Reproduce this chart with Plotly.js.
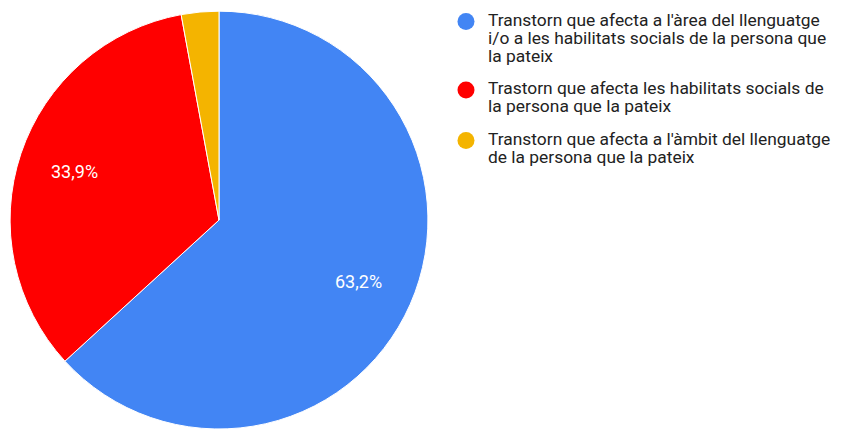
<!DOCTYPE html>
<html>
<head>
<meta charset="utf-8">
<script src="https://cdn.plot.ly/plotly-3.0.1.min.js"></script>
<style>html,body{margin:0;padding:0;background:#fff;}#chart{width:841px;height:429px;}</style>
</head>
<body>
<div id="chart"></div>
<script>
// ---- data ----
const legendLines = [
  ["Transtorn que afecta a l'àrea del llenguatge", "i/o a les habilitats socials de la persona que", "la pateix"],
  ["Trastorn que afecta les habilitats socials de", "la persona que la pateix"],
  ["Transtorn que afecta a l'àmbit del llenguatge", "de la persona que la pateix"]
];
const labels = legendLines.map(l => l.join(' '));
const values = [63.2, 33.9, 2.9];
const colors = ["#4285f4", "#ff0000", "#f4b400"];
const showLabel = [true, true, false];

// ---- layout constants ----
const W = 841, H = 429;
const pieLeft = 10, pieRight = 428, pieTopFrac = 0.974;
const pieCx = (pieLeft + pieRight) / 2;
const pieR = (pieRight - pieLeft) / 2;
const pieCy = H - pieTopFrac * H / 2; // from top
const labelRadiusFrac = 0.73;

const pie = {
  type: 'pie',
  labels: labels,
  values: values,
  sort: false,
  direction: 'clockwise',
  rotation: 0,
  marker: {colors: colors, line: {color: '#ffffff', width: 1}},
  textinfo: 'none',
  hoverinfo: 'none',
  showlegend: false,
  domain: {x: [pieLeft / W, pieRight / W], y: [0, pieTopFrac]}
};

const annotations = [];
const shapes = [];

// slice percentage labels placed along each slice's bisector
const total = values.reduce((a, b) => a + b, 0);
let cum = 0;
values.forEach((v, i) => {
  const mid = (cum + v / 2) / total;
  cum += v;
  if (!showLabel[i]) return;
  const ang = mid * 2 * Math.PI;
  const px = pieCx + Math.sin(ang) * pieR * labelRadiusFrac;
  const py = pieCy - Math.cos(ang) * pieR * labelRadiusFrac;
  annotations.push({
    xref: 'paper', yref: 'paper',
    x: px / W, y: 1 - py / H,
    xanchor: 'center', yanchor: 'middle',
    showarrow: false,
    text: (v / total * 100).toFixed(1).replace('.', ',') + '%',
    font: {family: 'Roboto', size: 18, color: '#ffffff'}
  });
});

// legend (drawn as annotations + circle markers for tight Google-style line spacing)
const legFont = 17.4;
const legTextX = 486, legMarkX = 466, legMarkR = 8.5;
const legFirstBaseline = 26, legLineGap = 18, legItemGap = 32.5;
let baseline = legFirstBaseline;
legendLines.forEach((lines, i) => {
  const firstMid = baseline - 6;
  const cy = firstMid + 1.5;
  shapes.push({
    type: 'circle', xref: 'paper', yref: 'paper',
    xsizemode: 'pixel', ysizemode: 'pixel',
    xanchor: legMarkX / W, yanchor: 1 - cy / H,
    x0: -legMarkR, x1: legMarkR, y0: -legMarkR, y1: legMarkR,
    fillcolor: colors[i], line: {width: 0}
  });
  lines.forEach((t, j) => {
    annotations.push({
      xref: 'paper', yref: 'paper',
      x: legTextX / W, y: 1 - (baseline - 6) / H,
      xanchor: 'left', yanchor: 'middle',
      showarrow: false, text: t,
      font: {family: 'Roboto', size: legFont, color: '#222222'}
    });
    if (j < lines.length - 1) baseline += legLineGap;
  });
  baseline += legItemGap;
});

const layout = {
  width: W, height: H,
  margin: {l: 0, r: 0, t: 0, b: 0},
  paper_bgcolor: '#ffffff',
  showlegend: false,
  annotations: annotations,
  shapes: shapes
};

Plotly.newPlot('chart', [pie], layout, {displayModeBar: false, staticPlot: true});
</script>
</body>
</html>
